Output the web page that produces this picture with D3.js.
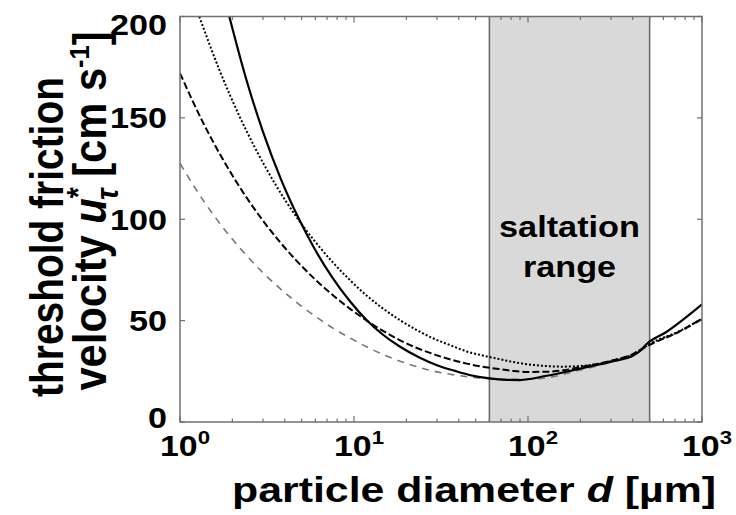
<!DOCTYPE html>
<html><head><meta charset="utf-8">
<script src="https://cdn.jsdelivr.net/npm/d3@7"></script>
<style>
body{margin:0;background:#fff}
svg{display:block}
text{font-family:'Liberation Sans',Arial,Helvetica,sans-serif;font-weight:bold;fill:#000}
</style>
</head><body>
<svg id="c" width="736" height="515"></svg>
<script>
// ---- data ----
const solidD = [1.92, 2.4, 3.0, 3.8, 4.79, 6, 7.5, 9.4, 11.8, 14.5, 18.4, 23.9, 30, 38, 46, 60, 75, 90, 128, 199, 309, 400, 440, 481, 627, 1000];
const solidU = [200, 169.2, 143.1, 119.8, 100.7, 84.7, 71.3, 59.9, 50.3, 43.4, 37.1, 31.7, 28.0, 25.2, 23.2, 21.5, 20.8, 20.7, 22.8, 26.3, 30, 32.6, 35, 38.5, 44.5, 58];

const dottedD = [1.29, 1.7, 2.2, 2.7, 3.5, 4.79, 6, 7.6, 9.5, 11.8, 14.5, 18.4, 23, 28.6, 36, 44.4, 55, 66, 90, 128, 160, 199, 309, 403, 450, 500, 748, 1000];
const dottedU = [200, 172.8, 150.7, 135.2, 117.8, 99.8, 88.8, 78.5, 69.9, 62.4, 56.3, 50.2, 45.3, 41.2, 37.8, 34.8, 32.8, 31.3, 29, 27.6, 27.3, 27.6, 30.3, 33.5, 36, 38.5, 45, 51];

const dashedD = [1, 1.36, 1.77, 2.3, 3.01, 3.8, 4.68, 6, 7.6, 9.5, 11.8, 14.5, 18.4, 23, 28.6, 36, 44.4, 55, 66, 82, 100, 128, 160, 199, 309, 403, 450, 500, 748, 1000];
const dashedU = [172, 147.5, 129.3, 113.4, 99.1, 88.2, 79.5, 70.2, 62.4, 55.8, 50.1, 45.2, 40.3, 36.5, 33.5, 30.8, 28.8, 27.2, 26.3, 25.2, 24.7, 24.8, 25.5, 27, 30.5, 33.6, 36, 38, 44.8, 51];

const grayD = [1, 1.36, 1.77, 2.3, 3.01, 3.9, 4.89, 6, 7.6, 9.5, 11.8, 14.5, 18.4, 23, 28.6, 36, 46, 60, 80, 100, 128, 199, 309, 403, 450, 500, 748, 1000];
const grayU = [127.5, 109.3, 95.8, 84.1, 73.5, 64.6, 57.7, 52.1, 46.2, 41.4, 37.1, 33.5, 30.0, 27.3, 25.1, 23.5, 22.2, 21.4, 21.0, 21.1, 21.8, 25.6, 29.8, 32.8, 35.5, 38.2, 44.5, 50.5];

const saltRange = [60, 500];
const xTicks = [1, 10, 100, 1000];
const xTickExp = ["0", "1", "2", "3"];
const yTicks = [0, 50, 100, 150, 200];

// ---- layout ----
const L = 180, R = 702, T = 16.5, B = 422;
const svg = d3.select("#c");
const x = d3.scaleLog().domain([1, 1000]).range([L, R]);
const y = d3.scaleLinear().domain([0, 200]).range([B, T]);

svg.append("defs").append("clipPath").attr("id", "clip")
  .append("rect").attr("x", L).attr("y", T).attr("width", R - L).attr("height", B - T);

// saltation band
svg.append("rect")
  .attr("x", x(saltRange[0])).attr("y", T)
  .attr("width", x(saltRange[1]) - x(saltRange[0])).attr("height", B - T)
  .attr("fill", "#d9d9d9");
saltRange.forEach(v => svg.append("line")
  .attr("x1", x(v)).attr("x2", x(v)).attr("y1", T).attr("y2", B)
  .attr("stroke", "#666").attr("stroke-width", 1.5));

// fit a text element to a target length along its own direction
function fitText(sel, tx, ty, rot, target) {
  const n = sel.node();
  const w = n.getComputedTextLength();
  const k = w > 0 ? target / w : 1;
  sel.attr("transform", `translate(${tx},${ty}) rotate(${rot}) scale(${k},1)`);
}

// saltation text
[["saltation", 237, 141], ["range", 277, 93]].forEach(([t, yy, w]) => {
  const s = svg.append("text").attr("text-anchor", "middle").attr("font-size", 30).text(t);
  fitText(s, (x(saltRange[0]) + x(saltRange[1])) / 2, yy, 0, w);
});

// ticks (inward) bottom/top with minor
const minor = [];
for (let e = 0; e < 3; e++) for (let k = 2; k <= 9; k++) minor.push(k * Math.pow(10, e));
const axisCol = "#707070";
const tg = svg.append("g").attr("stroke", axisCol).attr("stroke-width", 1.2);
xTicks.forEach(v => {
  tg.append("line").attr("x1", x(v)).attr("x2", x(v)).attr("y1", B).attr("y2", B - 6);
  tg.append("line").attr("x1", x(v)).attr("x2", x(v)).attr("y1", T).attr("y2", T + 6);
});
minor.forEach(v => {
  tg.append("line").attr("x1", x(v)).attr("x2", x(v)).attr("y1", B).attr("y2", B - 3.5);
  tg.append("line").attr("x1", x(v)).attr("x2", x(v)).attr("y1", T).attr("y2", T + 3.5);
});
yTicks.forEach(v => {
  tg.append("line").attr("x1", L).attr("x2", L + 5).attr("y1", y(v)).attr("y2", y(v));
  tg.append("line").attr("x1", R).attr("x2", R - 5).attr("y1", y(v)).attr("y2", y(v));
});

// curves
const line = d3.line().x(d => x(d[0])).y(d => y(d[1])).curve(d3.curveMonotoneX);
const cg = svg.append("g").attr("clip-path", "url(#clip)").attr("fill", "none");
const series = [
  {d: grayD, u: grayU, stroke: "#777", w: 1.6, dash: "7,6"},
  {d: dashedD, u: dashedU, stroke: "#000", w: 2, dash: "7,3"},
  {d: dottedD, u: dottedU, stroke: "#000", w: 2, dash: "2,2"},
  {d: solidD, u: solidU, stroke: "#000", w: 2.2, dash: null}
];
series.forEach(s => {
  cg.append("path").datum(s.d.map((v, i) => [v, s.u[i]]))
    .attr("d", line).attr("stroke", s.stroke).attr("stroke-width", s.w)
    .attr("stroke-dasharray", s.dash);
});

// frame
svg.append("rect").attr("x", L).attr("y", T).attr("width", R - L).attr("height", B - T)
  .attr("fill", "none").attr("stroke", axisCol).attr("stroke-width", 1.5);

// y tick labels
yTicks.forEach(v => {
  const yy = Math.min(Math.max(y(v), 25), 418);
  const s = String(v);
  const t = svg.append("text").attr("text-anchor", "end").attr("dy", "0.36em")
    .attr("font-size", 29).text(s);
  fitText(t, 167, yy, 0, s.length * 19);
});

// x tick labels
xTicks.forEach((v, i) => {
  const t = svg.append("text").attr("text-anchor", "middle").attr("font-size", 29);
  t.append("tspan").text("10");
  t.append("tspan").attr("font-size", 19).attr("dy", -12).text(xTickExp[i]);
  fitText(t, x(v) + 5, 456, 0, 50);
});

// x axis label
const xl = svg.append("text").attr("text-anchor", "middle").attr("font-size", 35.5);
xl.append("tspan").text("particle diameter ");
xl.append("tspan").attr("font-style", "italic").text("d");
xl.append("tspan").text(" [µm]");
fitText(xl, 474, 502, 0, 484);

// y axis labels (rotated)
const yl1 = svg.append("text").attr("text-anchor", "middle").attr("font-size", 46)
  .text("threshold friction");
fitText(yl1, 63, 237, -90, 320);
const yl = svg.append("text").attr("text-anchor", "middle").attr("font-size", 46);
yl.append("tspan").text("velocity ");
yl.append("tspan").attr("font-style", "italic").text("u");
yl.append("tspan").attr("font-size", 31).attr("dy", -17).text("*");
yl.append("tspan").attr("font-size", 31).attr("font-style", "italic").attr("dx", -14).attr("dy", 29).text("τ");
yl.append("tspan").attr("dy", -12).text(" [cm s");
yl.append("tspan").attr("font-size", 28).attr("dy", -17).text("-1");
yl.append("tspan").attr("dy", 17).text("]");
fitText(yl, 106, 211, -90, 372);
</script>
</body></html>
